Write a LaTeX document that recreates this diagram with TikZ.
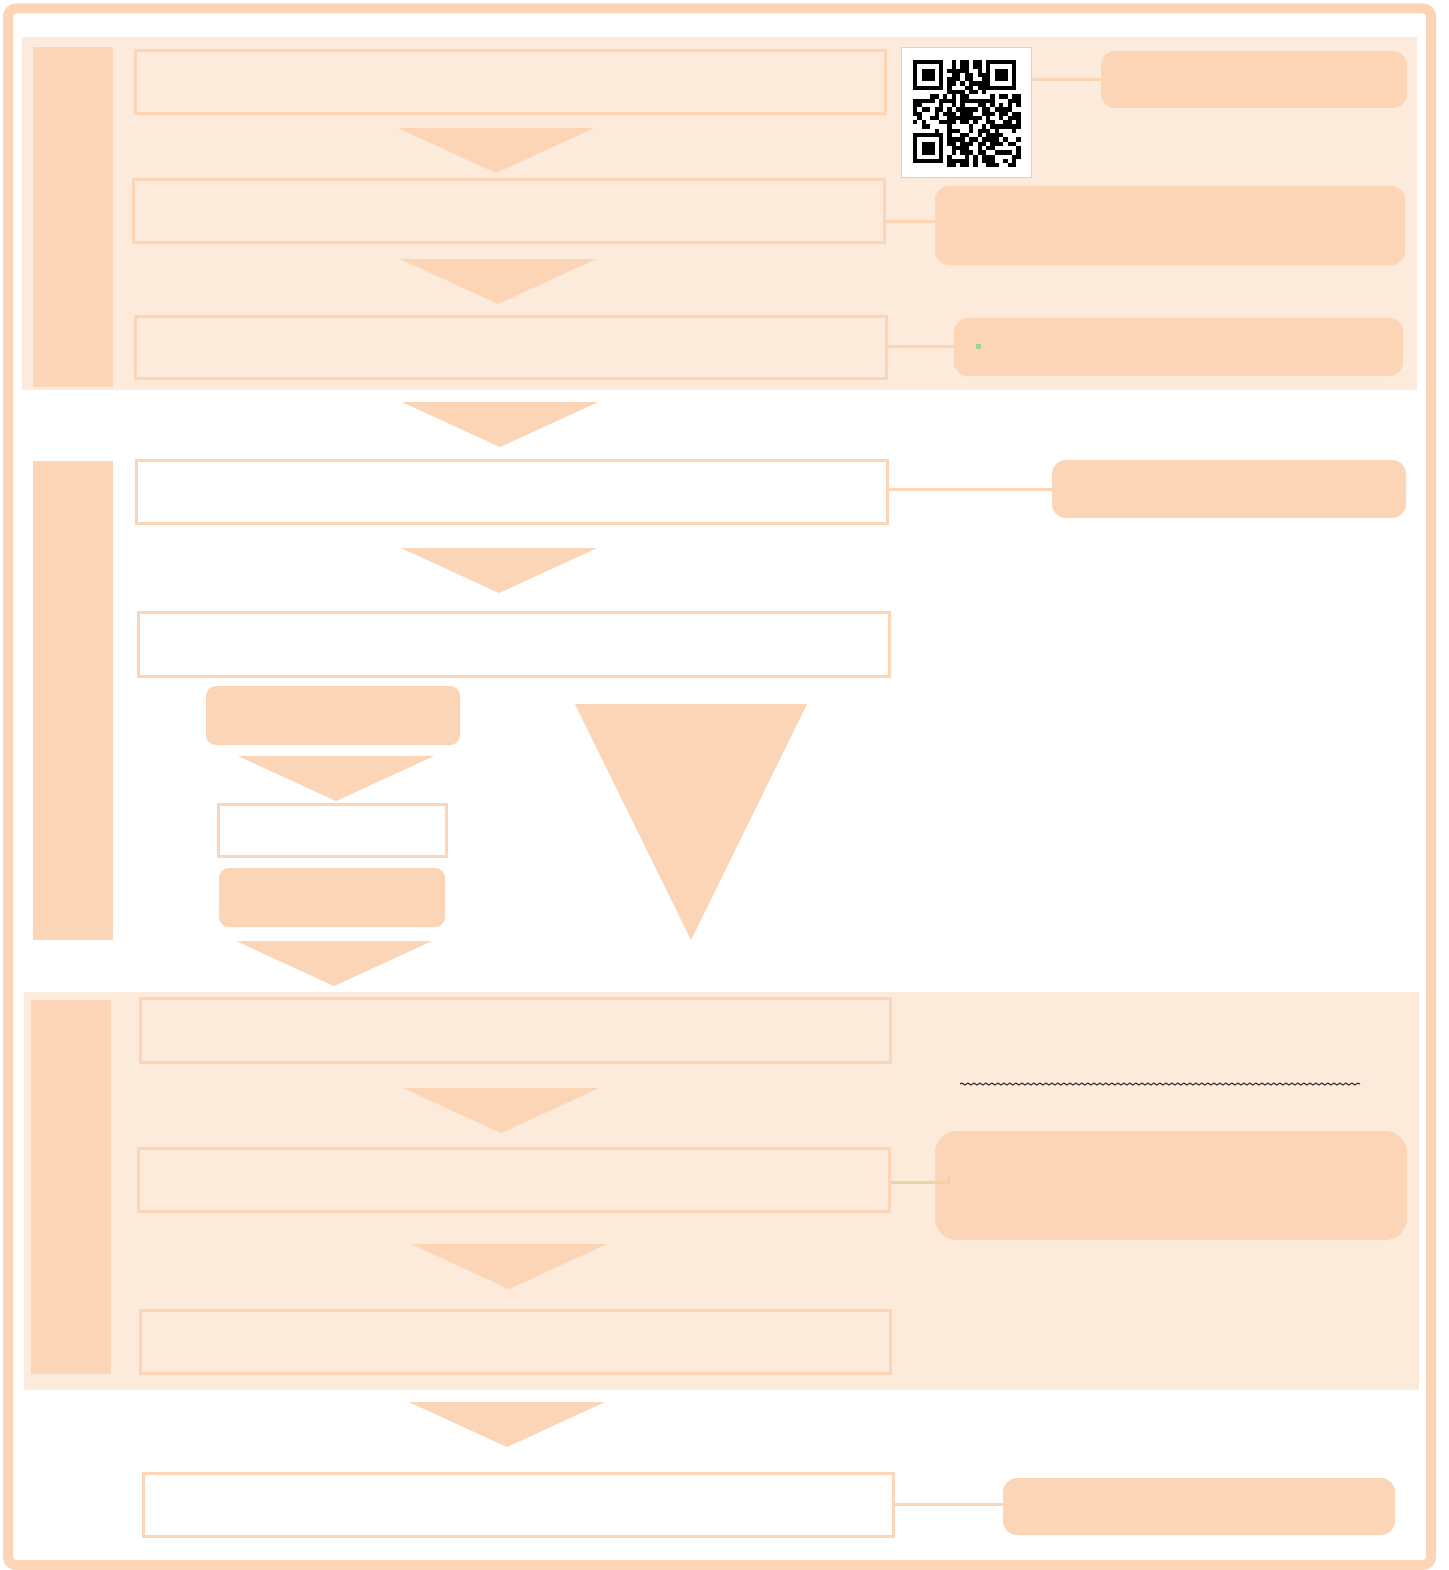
\documentclass[tikz,border=0pt]{standalone}
\usepackage{tikz}
\usepackage{xcolor}
\usetikzlibrary{calc,decorations.pathmorphing}
\definecolor{peach}{HTML}{FBD5B5}
\definecolor{peachlight}{HTML}{FCEADB}
\definecolor{qrgreen}{HTML}{C5E0B4}
\definecolor{dotgreen}{HTML}{A9D18E}
\definecolor{tanline}{HTML}{E6D6A6}
\tikzset{
  stepbox/.style={draw=peach, line width=3pt, fill=#1, inner sep=0pt},
  stepbox/.default=peachlight,
  note/.style={fill=peach, rounded corners=14pt, inner sep=0pt},
  lane/.style={fill=peach, inner sep=0pt},
  link/.style={draw=peach, line width=3pt},
  flowtri/.pic={\fill[peach] (-98,0) -- (98,0) -- (0,45) -- cycle;},
}

\begin{document}
\begin{tikzpicture}[x=1pt, y=-1pt]
\useasboundingbox (0,0) rectangle (1448,1570);
\fill[white] (0,0) rectangle (1448,1570);

% ---- bands ----
\fill[peachlight] (22,37) rectangle (1417,390);
\fill[peachlight] (24,992) rectangle (1419,1390);

% ---- lanes ----
\node[lane, minimum width=80pt, minimum height=340pt] (lane1) at (73,217) {};
\node[lane, minimum width=80pt, minimum height=479pt] (lane2) at (73,700.5) {};
\node[lane, minimum width=80pt, minimum height=374pt] (lane3) at (71,1187) {};

% ---- band 1 ----
\node[stepbox, minimum width=750pt, minimum height=63pt] (a) at (510,82.5) {};
\node[stepbox, minimum width=751pt, minimum height=63pt] (b) at (508.5,211.5) {};
\node[stepbox, minimum width=751pt, minimum height=62pt] (c) at (510.5,347) {};
\pic at (496,128) {flowtri};
\pic at (498,259) {flowtri};

\node[draw=qrgreen, line width=1pt, fill=white, minimum width=130pt, minimum height=130pt, inner sep=0pt] (qr) at (966,113) {};
\node[note, minimum width=306pt, minimum height=57pt] (n1) at (1254,79.5) {};
\node[note, minimum width=470pt, minimum height=79pt] (n2) at (1170,225.5) {};
\node[note, minimum width=449pt, minimum height=58pt] (n3) at (1178.5,347) {};

% qr pattern
\begin{scope}[shift={(913,60)}]
  \foreach \fx/\fy in {0/0, 73.1/0, 0/73.1}{
    \fill[black] (\fx,\fy) rectangle ++(30.1,30.1);
    \fill[white] (\fx+4.3,\fy+4.3) rectangle ++(21.5,21.5);
    \fill[black] (\fx+8.6,\fy+8.6) rectangle ++(12.9,12.9);
  }
  \pgfmathsetseed{11}
  \foreach \i in {0,...,24}{
    \foreach \j in {0,...,24}{
      \pgfmathtruncatemacro\inzone{((\i<8)&&(\j<8)) || ((\i>16)&&(\j<8)) || ((\i<8)&&(\j>16))}
      \pgfmathrandominteger{\bit}{0}{9}
      \ifnum\inzone=0 \ifnum\bit<6 \fill[black] (4.3*\i,4.3*\j) rectangle ++(4.3,4.3); \fi\fi
    }
  }
\end{scope}

\draw[link] (qr.east |- n1.west) -- (n1.west);
\draw[link] ([yshift=-10.5pt]b.east) -- ([yshift=-10.5pt]b.east -| n2.west);
\coordinate (c-end) at (978,346);
\draw[link] (c.east |- c-end) -- (c-end);
\fill[dotgreen] ($(c-end)+(-2.5,-2.5)$) rectangle ++(5,5);

\pic at (500,402) {flowtri};

% ---- band 2 ----
\node[stepbox=white, minimum width=751pt, minimum height=63pt] (d) at (511.5,491.5) {};
\node[note, minimum width=354pt, minimum height=58pt] (n4) at (1229,489) {};
\draw[link] (n4.west -| d.east) -- (n4.west);
\pic at (499,548) {flowtri};
\node[stepbox=white, minimum width=751pt, minimum height=64pt] (e) at (513.5,644) {};

\node[note, rounded corners=10pt, minimum width=254pt, minimum height=59pt] (n5) at (333,715.5) {};
\pic at (336,756) {flowtri};
\node[stepbox=white, minimum width=228pt, minimum height=52pt] (f) at (332,830) {};
\node[note, rounded corners=10pt, minimum width=226pt, minimum height=59pt] (n6) at (332,897.5) {};
\pic at (334,941) {flowtri};

\fill[peach] (575,704) -- (807,704) -- (691,940) -- cycle;

% ---- band 3 ----
\node[stepbox, minimum width=750pt, minimum height=64pt] (g) at (515,1030) {};
\draw[black!85, line width=1pt, decorate, decoration={snake, amplitude=1pt, segment length=6pt}] (960,1084) -- (1360,1084);
\pic at (501,1088) {flowtri};
\node[stepbox, minimum width=751pt, minimum height=63pt] (h) at (513.5,1179.5) {};
\node[note, rounded corners=22pt, minimum width=472pt, minimum height=109pt] (n7) at (1171,1185.5) {};
\coordinate (h-end) at (948,1182);
\draw[tanline, line width=3pt] (h.east |- h-end) -- (h-end) -- ++(0,-5);
\pic at (509,1244) {flowtri};
\node[stepbox, minimum width=750pt, minimum height=63pt] (i) at (515,1341.5) {};

\pic at (507,1402) {flowtri};

% ---- last step ----
\node[stepbox=white, minimum width=750pt, minimum height=63pt] (j) at (518,1504.5) {};
\node[note, minimum width=392pt, minimum height=57pt] (n8) at (1199,1506.5) {};
\draw[link] (j.east) -- (j.east -| n8.west);

% ---- outer frame ----
\draw[peach, line width=10pt, rounded corners=8pt] (8,8.5) rectangle (1431,1565);

\end{tikzpicture}
\end{document}
